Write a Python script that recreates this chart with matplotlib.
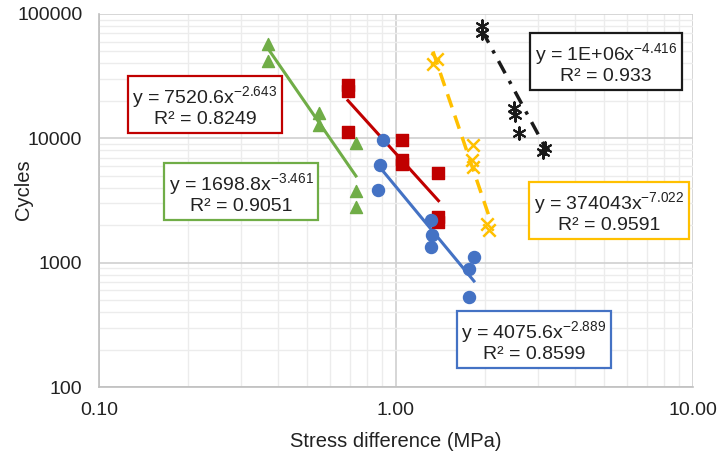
import numpy as np
import matplotlib.pyplot as plt
from matplotlib.ticker import FixedLocator, FixedFormatter, LogLocator, NullFormatter

plt.rcParams['font.family'] = ['Liberation Sans', 'DejaVu Sans']
plt.rcParams['mathtext.fontset'] = 'custom'
plt.rcParams['mathtext.rm'] = 'Liberation Sans'
plt.rcParams['mathtext.it'] = 'Liberation Sans'

# ---- data ----
green_x = [0.371, 0.371, 0.551, 0.551, 0.733, 0.733, 0.733]
green_y = [57400, 41900, 16000, 12800, 9160, 3770, 2800]

red_x = [0.689, 0.689, 0.689, 1.048, 1.045, 1.05, 1.38, 1.39, 1.39]
red_y = [26800, 24000, 11200, 9700, 6700, 6200, 5260, 2330, 2120]

blue_x = [0.904, 0.883, 0.869, 1.31, 1.32, 1.31, 1.83, 1.76, 1.76]
blue_y = [9680, 6100, 3840, 2200, 1670, 1330, 1110, 890, 528]

yellow_x = [1.332, 1.374, 1.815, 1.80, 1.82, 2.03, 2.06]
yellow_y = [39600, 43500, 8830, 6680, 5870, 2050, 1830]

black_x = [1.948, 1.948, 2.50, 2.52, 2.59, 3.18, 3.12]
black_y = [80000, 70300, 17500, 15400, 11000, 8360, 7760]

# power fit coefficients shown in the chart (a * x^b)
fits = {
    'green': (1698.8, -3.461),
    'red': (7520.6, -2.643),
    'blue': (4075.6, -2.889),
    'yellow': (374043, -7.022),
    'black': (1.4e6, -4.416),
}

fig = plt.figure(figsize=(7.21, 4.61), dpi=100)
ax = fig.add_axes([99/721, 74/461, 594/721, 373/461])

def trend(xs, key, color, **kw):
    a, b = fits[key]
    xx = np.linspace(min(xs), max(xs), 50)
    ax.plot(xx, a*xx**b, color=color, zorder=2, **kw)

trend(green_x, 'green', '#70AD47', lw=2.2)
trend(red_x, 'red', '#C00000', lw=2.2)
trend(blue_x, 'blue', '#4472C4', lw=2.2)
trend(yellow_x, 'yellow', '#FFC000', lw=2.5, dashes=(4, 2.5))
trend(black_x, 'black', '#1a1a1a', lw=2.5, dashes=(4, 2.5, 1, 2.5))

ax.scatter(green_x, green_y, marker='^', s=75, color='#70AD47', zorder=3)
ax.scatter(red_x, red_y, marker='s', s=75, color='#C00000', zorder=3)
ax.scatter(blue_x, blue_y, marker='o', s=75, color='#4472C4', zorder=3)
ax.scatter(yellow_x, yellow_y, marker='x', s=80, color='#FFC000', linewidths=1.8, zorder=3)
ax.scatter(black_x, black_y, marker=(6, 2, 0), s=80, color='#1a1a1a', linewidths=1.5, zorder=3)

ax.set_xscale('log')
ax.set_yscale('log')
ax.set_xlim(0.1, 10)
ax.set_ylim(100, 100000)

ax.xaxis.set_major_locator(FixedLocator([0.1, 1, 10]))
ax.xaxis.set_major_formatter(FixedFormatter(['0.10', '1.00', '10.00']))
ax.yaxis.set_major_locator(FixedLocator([100, 1000, 10000, 100000]))
ax.yaxis.set_major_formatter(FixedFormatter(['100', '1000', '10000', '100000']))
ax.xaxis.set_minor_locator(LogLocator(base=10, subs=np.arange(2, 10)))
ax.yaxis.set_minor_locator(LogLocator(base=10, subs=np.arange(2, 10)))
ax.xaxis.set_minor_formatter(NullFormatter())
ax.yaxis.set_minor_formatter(NullFormatter())

ax.grid(True, which='major', color='#d0d0d0', lw=1.2, zorder=0)
ax.grid(True, which='minor', color='#ececec', lw=1.0, zorder=0)
ax.set_axisbelow(True)
ax.tick_params(which='both', length=0, labelsize=14, colors='#222222')
ax.tick_params(axis='x', pad=11)
ax.tick_params(axis='y', pad=12)

for side in ['top', 'right']:
    ax.spines[side].set_visible(False)
for side in ['left', 'bottom']:
    ax.spines[side].set_color('#bfbfbf')
    ax.spines[side].set_linewidth(1.2)

ax.set_xlabel('Stress difference (MPa)', fontsize=14.5, color='#222222')
ax.set_ylabel('Cycles', fontsize=14.5, color='#222222')
ax.xaxis.set_label_coords(0.5, -0.121)
ax.yaxis.set_label_coords(-0.111, 0.528)

boxes = [
    ('y = 7520.6x$^{-2.643}$\nR² = 0.8249', '#C00000', 205, 106),
    ('y = 1698.8x$^{-3.461}$\nR² = 0.9051', '#70AD47', 241, 193),
    ('y = 374043x$^{-7.022}$\nR² = 0.9591', '#FFC000', 609, 212),
    ('y = 4075.6x$^{-2.889}$\nR² = 0.8599', '#4472C4', 534, 341),
    ('y = 1E+06x$^{-4.416}$\nR² = 0.933', '#1a1a1a', 606, 63),
]
for txt, col, px, py in boxes:
    fig.text(px/721, 1 - py/461, txt, fontsize=14, ha='center', va='center',
             multialignment='center', color='#222222', zorder=5, linespacing=1.1,
             bbox=dict(boxstyle='square,pad=0.25', fc='white', ec=col, lw=1.6))

fig.savefig('out.png', dpi=100)
